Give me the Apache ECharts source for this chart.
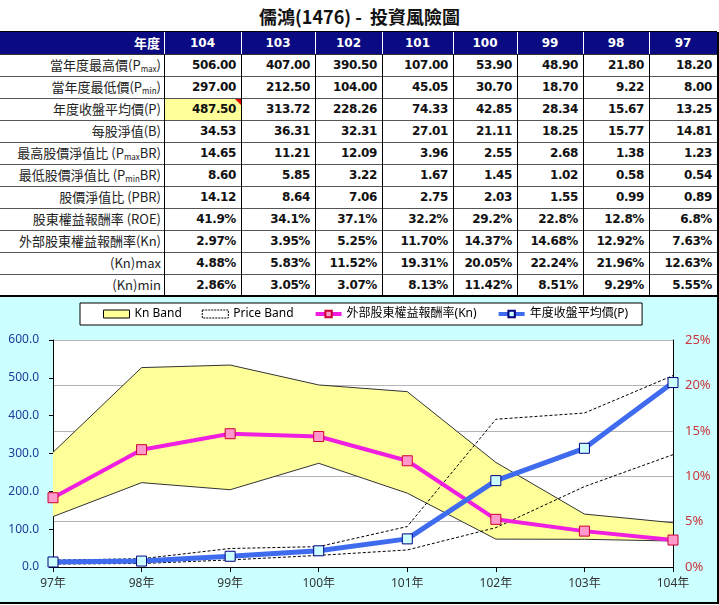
<!DOCTYPE html>
<html><head><meta charset="utf-8">
<script src="https://cdn.jsdelivr.net/npm/echarts@6/dist/echarts.min.js"></script>
<style>
body{margin:0;width:719px;height:605px;position:relative;background:#fff;overflow:hidden;font-family:"Noto Sans CJK TC","Noto Sans",sans-serif;}
#title{position:absolute;left:0;top:3px;width:719px;text-align:center;font-size:18px;font-weight:bold;line-height:26px;color:#111;font-family:"Noto Sans CJK TC",sans-serif;white-space:pre;}
.c{position:absolute;height:22px;line-height:22px;white-space:nowrap;overflow:hidden;box-sizing:border-box;}
.lab{text-align:right;padding-right:3px;font-size:13px;color:#222;font-family:"Noto Sans CJK TC",sans-serif;}
.num{text-align:right;padding-right:5px;font-size:12px;font-weight:bold;color:#111;font-family:"DejaVu Sans",sans-serif;letter-spacing:-0.4px;}
.hd{color:#fff;font-weight:bold;font-size:12px;font-family:"DejaVu Sans","Noto Sans CJK TC",sans-serif;text-align:center;}
.ln{position:absolute;}
sub{font-size:8px;vertical-align:-2px;line-height:0;}
#chart{position:absolute;left:0;top:297px;width:717px;height:305px;border-right:2px solid #000;border-bottom:2px solid #000;}
</style></head><body>
<div id="title">儒鴻(1476) -  投資風險圖</div>
<div id="tbl"></div>
<div id="chart"></div>
<script>
// ---- data (table order: 104 -> 97) ----
const years   = [104, 103, 102, 101, 100, 99, 98, 97];
const pMax    = [506.00, 407.00, 390.50, 107.00, 53.90, 48.90, 21.80, 18.20];
const pMin    = [297.00, 212.50, 104.00, 45.05, 30.70, 18.70, 9.22, 8.00];
const pAvg    = [487.50, 313.72, 228.26, 74.33, 42.85, 28.34, 15.67, 13.25];
const bvps    = [34.53, 36.31, 32.31, 27.01, 21.11, 18.25, 15.77, 14.81];
const pMaxBR  = [14.65, 11.21, 12.09, 3.96, 2.55, 2.68, 1.38, 1.23];
const pMinBR  = [8.60, 5.85, 3.22, 1.67, 1.45, 1.02, 0.58, 0.54];
const pbr     = [14.12, 8.64, 7.06, 2.75, 2.03, 1.55, 0.99, 0.89];
const roe     = [41.9, 34.1, 37.1, 32.2, 29.2, 22.8, 12.8, 6.8];
const kn      = [2.97, 3.95, 5.25, 11.70, 14.37, 14.68, 12.92, 7.63];
const knMax   = [4.88, 5.83, 11.52, 19.31, 20.05, 22.24, 21.96, 12.63];
const knMin   = [2.86, 3.05, 3.07, 8.13, 11.42, 8.51, 9.29, 5.55];
const rowLabels = ['當年度最高價(P<sub>max</sub>)','當年度最低價(P<sub>min</sub>)','年度收盤平均價(P)','每股淨值(B)',
  '最高股價淨值比 (P<sub>max</sub>BR)','最低股價淨值比 (P<sub>min</sub>BR)','股價淨值比 (PBR)','股東權益報酬率 (ROE)',
  '外部股東權益報酬率(Kn)','(Kn)max','(Kn)min'];
const headerLabel = '年度';
const legendNames = ['Kn Band','Price Band','外部股東權益報酬率(Kn)','年度收盤平均價(P)'];
const yearSuffix = '年';

// ---- table ----
const colX = [0,164,241,315,382,453,517,583,649,717];
const rowH = 22, top0 = 32;
const f2 = v => v.toFixed(2), f1p = v => v.toFixed(1)+'%', f2p = v => v.toFixed(2)+'%';
const rows = [[pMax,f2],[pMin,f2],[pAvg,f2],[bvps,f2],[pMaxBR,f2],[pMinBR,f2],[pbr,f2],[roe,f1p],[kn,f2p],[knMax,f2p],[knMin,f2p]];
const tbl = document.getElementById('tbl');
function add(cls, x, y, w, h, html, style){
  const d=document.createElement('div'); d.className=cls;
  d.style.left=x+'px'; d.style.top=y+'px'; d.style.width=w+'px'; if(h!=null) d.style.height=h+'px';
  if(style) Object.assign(d.style, style);
  if(html!=null) d.innerHTML=html; tbl.appendChild(d); return d;
}
add('ln',0,top0,717,rowH,null,{background:'#0A0A82'});
add('c hd',0,top0,colX[1],rowH,headerLabel,{textAlign:'right',paddingRight:'4px',fontFamily:'"Noto Sans CJK TC",sans-serif',fontSize:'13px'});
years.forEach((y,i)=>add('c hd',colX[i+1],top0,colX[i+2]-colX[i+1],rowH,String(y)));
rows.forEach((r,ri)=>{
  const y = top0 + rowH*(ri+1);
  add('c lab',0,y,colX[1],rowH,rowLabels[ri]);
  r[0].forEach((v,ci)=>{
    const st = (ri===2 && ci===0) ? {background:'#FFFF99'} : null;
    add('c num',colX[ci+1],y,colX[ci+2]-colX[ci+1],rowH,r[1](v),st);
  });
});
add('ln',colX[2]-6,top0+rowH*3+1,0,0,null,{borderTop:'6px solid #E00000',borderLeft:'6px solid transparent',width:'0',height:'0'});
add('ln',0,top0-1,717,1,null,{background:'#000'});
for(let k=1;k<=10;k++) add('ln',0,top0+rowH*(k+1),717,1,null,{background:'#555'});
add('ln',0,top0+rowH,717,1,null,{background:'#333'});
add('ln',0,top0+rowH*12-1,719,2,null,{background:'#000'});
for(let k=1;k<colX.length;k++){
  add('ln',colX[k],top0,1,rowH,null,{background:'#fff'});
  add('ln',colX[k],top0+rowH,1,rowH*11,null,{background:'#000'});
}
add('ln',717,top0,2,rowH*12,null,{background:'#000'});

// ---- chart ----
const cats = years.slice().reverse().map(y=>y+yearSuffix);
const rv = a => a.slice().reverse();
const knMinC = rv(knMin), knMaxC = rv(knMax);
const knDiff = knMaxC.map((v,i)=>+(v-knMinC[i]).toFixed(2));
const MAG = '#F01EE0', BLU = '#3F6BEF';
const chart = echarts.init(document.getElementById('chart'), null, {renderer:'canvas'});
chart.setOption({
  animation:false,
  backgroundColor:'#CCFFFF',
  textStyle:{fontFamily:'"Noto Sans","Noto Sans CJK TC",sans-serif'},
  legend:{
    left:80, top:6, padding:[5,14,5,23], itemGap:20, itemWidth:26, itemHeight:8,
    backgroundColor:'#fff', borderColor:'#000', borderWidth:1, borderRadius:0,
    textStyle:{fontSize:12,color:'#000',fontFamily:'"Noto Sans","Noto Sans CJK TC",sans-serif'},
    data:[
      {name:legendNames[0], icon:'rect', itemStyle:{color:'#FFFF99',borderColor:'#000',borderWidth:1}},
      {name:legendNames[1], icon:'rect', itemStyle:{color:'#fff',borderColor:'#000',borderWidth:1,borderType:[2,1]}},
      {name:legendNames[2], lineStyle:{color:MAG,width:4}},
      {name:legendNames[3], lineStyle:{color:BLU,width:4}}
    ]
  },
  grid:{left:53,right:44,top:43,bottom:35,show:true,backgroundColor:'#fff',borderWidth:0},
  xAxis:{type:'category',boundaryGap:false,data:cats,
    axisLine:{lineStyle:{color:'#000',width:1}},
    axisTick:{length:5,lineStyle:{color:'#000'}},
    axisLabel:{color:'#333',fontSize:12,margin:11}},
  yAxis:[
    {type:'value',min:0,max:600,interval:100,position:'left',
     axisLine:{show:true,lineStyle:{color:'#000'}},
     axisTick:{show:true,length:4,lineStyle:{color:'#000'}},
     splitLine:{show:false},
     axisLabel:{formatter:v=>v.toFixed(1),color:'#1F3A9A',fontSize:12,margin:14}},
    {type:'value',min:0,max:25,interval:5,position:'right',
     axisLine:{show:true,lineStyle:{color:'#000'}},
     axisTick:{show:false},
     splitLine:{lineStyle:{color:'#B4B4B4',width:1}},
     axisLabel:{formatter:v=>v+'%',color:'#C8373A',fontSize:13,margin:12}}
  ],
  series:[
    {name:legendNames[0],type:'line',yAxisIndex:1,stack:'kn',data:knMinC,symbol:'none',
     lineStyle:{color:'#333',width:1},itemStyle:{color:'#FFFF99'}},
    {name:legendNames[0],type:'line',yAxisIndex:1,stack:'kn',data:knDiff,symbol:'none',
     lineStyle:{color:'#333',width:1},itemStyle:{color:'#FFFF99'},areaStyle:{color:'#FFFF99',opacity:1}},
    {name:legendNames[1],type:'line',yAxisIndex:0,data:rv(pMax),symbol:'none',
     lineStyle:{color:'#000',width:1,type:[3,2]},itemStyle:{color:'#fff'}},
    {name:legendNames[1],type:'line',yAxisIndex:0,data:rv(pMin),symbol:'none',
     lineStyle:{color:'#000',width:1,type:[3,2]},itemStyle:{color:'#fff'}},
    {name:legendNames[2],type:'line',yAxisIndex:1,data:rv(kn),symbol:'rect',symbolSize:10,
     lineStyle:{color:MAG,width:4},itemStyle:{color:'#FF99CC',borderColor:'#CC0033',borderWidth:1}},
    {name:legendNames[3],type:'line',yAxisIndex:0,data:rv(pAvg),symbol:'rect',symbolSize:10,
     lineStyle:{color:BLU,width:5},itemStyle:{color:'#CCFFFF',borderColor:'#000080',borderWidth:1}}
  ]
});
</script>
</body></html>
